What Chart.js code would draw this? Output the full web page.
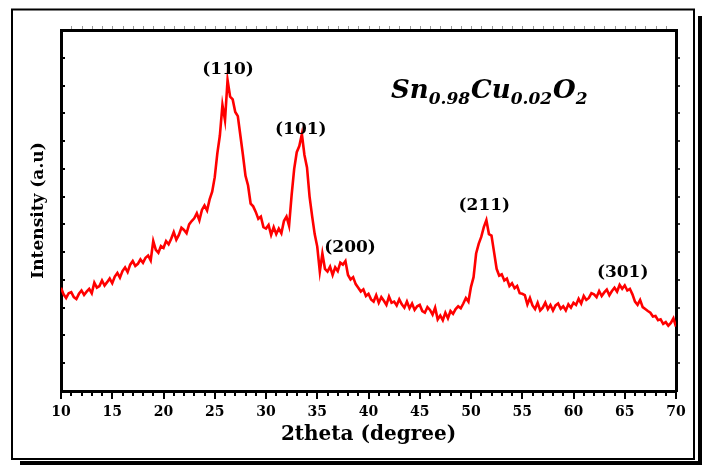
<!DOCTYPE html>
<html>
<head>
<meta charset="utf-8">
<script src="https://cdn.jsdelivr.net/npm/chart.js@4.4.0/dist/chart.umd.min.js"></script>
<style>
  html, body { margin: 0; padding: 0; background: #fff; }
  #wrap { width: 702px; height: 465px; }
</style>
</head>
<body>
<div id="wrap"><canvas id="xrd" width="702" height="465"></canvas></div>
<script>
// ---------------- data ----------------
const startAngle = 10;
const stepAngle = 0.25;
// intensity (a.u), one row per degree (x.00, x.25, x.50, x.75)
const intensity = [
  372, 348, 335, 352,   // 10
  356, 338, 331, 350,   // 11
  362, 346, 358, 368,   // 12
  352, 390, 372, 378,   // 13
  398, 380, 392, 405,   // 14
  388, 412, 425, 408,   // 15
  432, 445, 428, 455,   // 16
  468, 450, 458, 474,   // 17
  462, 480, 488, 470,   // 18
  540, 508, 498, 522,   // 19
  515, 540, 528, 548,   // 20
  572, 545, 562, 588,   // 21
  580, 568, 600, 612,   // 22
  622, 640, 615, 652,   // 23
  668, 650, 690, 718,   // 24
  770, 855, 920, 1030,  // 25
  975, 1120, 1060, 1050, // 26
  1005, 990, 920, 850,  // 27
  775, 740, 675, 665,   // 28
  645, 620, 628, 590,   // 29
  585, 598, 562, 590,   // 30
  565, 585, 568, 612,   // 31
  628, 595, 705, 800,   // 32
  860, 882, 925, 850,   // 33
  805, 700, 630, 565,   // 34
  520, 430, 495, 440,   // 35
  430, 448, 418, 445,   // 36
  432, 462, 455, 468,   // 37
  418, 402, 410, 385,   // 38
  372, 358, 366, 342,   // 39
  350, 330, 322, 345,   // 40
  318, 338, 325, 310,   // 41
  340, 318, 322, 308,   // 42
  330, 312, 300, 322,   // 43
  298, 315, 292, 305,   // 44
  310, 288, 282, 302,   // 45
  292, 275, 300, 258,   // 46
  272, 255, 282, 262,   // 47
  288, 278, 295, 305,   // 48
  298, 315, 335, 322,   // 49
  375, 410, 495, 530,   // 50
  555, 590, 615, 565,   // 51
  560, 500, 440, 415,   // 52
  420, 398, 405, 378,   // 53
  388, 370, 378, 352,   // 54
  350, 345, 312, 335,   // 55
  308, 295, 318, 290,   // 56
  300, 318, 295, 310,   // 57
  290, 308, 315, 296,   // 58
  305, 290, 312, 300,   // 59
  318, 310, 332, 315,   // 60
  342, 328, 335, 352,   // 61
  348, 338, 360, 342,   // 62
  355, 365, 345, 360,   // 63
  372, 358, 382, 368,   // 64
  380, 362, 368, 348,   // 65
  322, 310, 328, 302,   // 66
  295, 288, 282, 268,   // 67
  270, 255, 258, 242,   // 68
  248, 235, 245, 262,   // 69
  232                   // 70
];

// peak labels (hkl) and where they sit
const peakLabels = ["(110)", "(101)", "(200)", "(211)", "(301)"];
const peakAngles = [26.3, 33.4, 38.2, 51.3, 64.8];
const peakLevels = [1156, 943, 518, 666, 425];

const xMin = 10, xMax = 70;
const yMin = 0, yMax = 1300, yStep = 100;

const points = intensity.map((v, i) => ({ x: startAngle + i * stepAngle, y: v }));

const serif = '"DejaVu Serif", "Liberation Serif", serif';

// ---------- frame, minor ticks, labels ----------
const decorPlugin = {
  id: "decor",
  afterDraw(chart) {
    const ctx = chart.ctx;
    const xs = chart.scales.x;
    const ys = chart.scales.y;
    const area = chart.chartArea;
    ctx.save();

    // outer frame with shadow
    ctx.strokeStyle = "#000";
    ctx.lineWidth = 2;
    ctx.strokeRect(12, 9.5, 682, 449.5);
    ctx.fillStyle = "#000";
    ctx.fillRect(698, 16, 4, 449);
    ctx.fillRect(20, 461, 682, 4);

    // bottom minor ticks
    ctx.lineWidth = 2;
    for (let a = xMin; a <= xMax; a++) {
      if (a % 5 === 0) continue;
      const px = Math.round(xs.getPixelForValue(a));
      ctx.beginPath();
      ctx.moveTo(px, area.bottom);
      ctx.lineTo(px, area.bottom + 5);
      ctx.stroke();
    }
    // top small ticks
    ctx.strokeStyle = "#999";
    ctx.lineWidth = 1;
    for (let a = xMin + 1; a < xMax; a++) {
      const px = Math.round(xs.getPixelForValue(a)) + 0.5;
      ctx.beginPath();
      ctx.moveTo(px, area.top - 1);
      ctx.lineTo(px, area.top - 4);
      ctx.stroke();
    }
    // y ticks: left inward, right outward
    ctx.strokeStyle = "#000";
    for (let v = yMin + yStep; v < yMax; v += yStep) {
      const py = Math.round(ys.getPixelForValue(v));
      ctx.lineWidth = 2;
      ctx.beginPath();
      ctx.moveTo(area.left, py);
      ctx.lineTo(area.left + 4, py);
      ctx.stroke();
      ctx.lineWidth = 1.5;
      ctx.beginPath();
      ctx.moveTo(area.right, py);
      ctx.lineTo(area.right + 4, py);
      ctx.stroke();
    }

    // peak labels
    ctx.fillStyle = "#000";
    ctx.font = "bold 17px " + serif;
    ctx.textAlign = "center";
    ctx.textBaseline = "middle";
    peakLabels.forEach((t, i) => {
      ctx.fillText(t, xs.getPixelForValue(peakAngles[i]), ys.getPixelForValue(peakLevels[i]));
    });

    // sample name Sn0.98Cu0.02O2
    const parts = [
      ["Sn", false], ["0.98", true], ["Cu", false], ["0.02", true], ["O", false], ["2", true]
    ];
    ctx.textAlign = "left";
    ctx.textBaseline = "alphabetic";
    let tx = 391;
    parts.forEach(([t, sub]) => {
      ctx.font = (sub ? "italic bold 17px " : "italic bold 26px ") + serif;
      ctx.fillText(t, tx, sub ? 104 : 98);
      tx += ctx.measureText(t).width + (sub ? 1 : 0);
    });

    ctx.restore();
  }
};

new Chart(document.getElementById("xrd"), {
  type: "line",
  data: {
    datasets: [{
      data: points,
      borderColor: "#ff0000",
      borderWidth: 2.6,
      pointRadius: 0,
      tension: 0,
      fill: false
    }]
  },
  options: {
    responsive: false,
    animation: false,
    devicePixelRatio: 1,
    layout: { padding: { left: 26, right: 20, top: 24, bottom: 18 } },
    plugins: { legend: { display: false }, tooltip: { enabled: false } },
    scales: {
      x: {
        type: "linear",
        position: "bottom",
        min: xMin,
        max: xMax,
        ticks: {
          stepSize: 5,
          color: "#000",
          padding: 5,
          maxRotation: 0,
          font: { family: serif, size: 14, weight: "bold" }
        },
        grid: { drawOnChartArea: false, drawTicks: true, tickLength: 8, color: "#000", lineWidth: 2 },
        border: { display: true, color: "#000", width: 3 },
        title: {
          display: true,
          text: "2theta (degree)",
          color: "#000",
          padding: 0,
          font: { family: serif, size: 20, weight: "bold" }
        },
        afterFit(s) { s.height = 56; }
      },
      x2: {
        type: "linear",
        position: "top",
        min: xMin,
        max: xMax,
        ticks: { display: false },
        grid: { drawOnChartArea: false, drawTicks: false },
        border: { display: true, color: "#000", width: 3 },
        afterFit(s) { s.height = 6; }
      },
      y: {
        min: yMin,
        max: yMax,
        ticks: { display: false, stepSize: yStep },
        grid: { drawOnChartArea: false, drawTicks: false },
        border: { display: true, color: "#000", width: 3 },
        title: {
          display: true,
          text: "Intensity (a.u)",
          color: "#000",
          padding: { top: 2, bottom: 0 },
          font: { family: serif, size: 17, weight: "bold" }
        },
        afterFit(s) { s.width = 35; }
      },
      y2: {
        position: "right",
        min: yMin,
        max: yMax,
        ticks: { display: false, stepSize: yStep },
        grid: { drawOnChartArea: false, drawTicks: false },
        border: { display: true, color: "#000", width: 3 },
        afterFit(s) { s.width = 6; }
      }
    }
  },
  plugins: [decorPlugin]
});
</script>
</body>
</html>
